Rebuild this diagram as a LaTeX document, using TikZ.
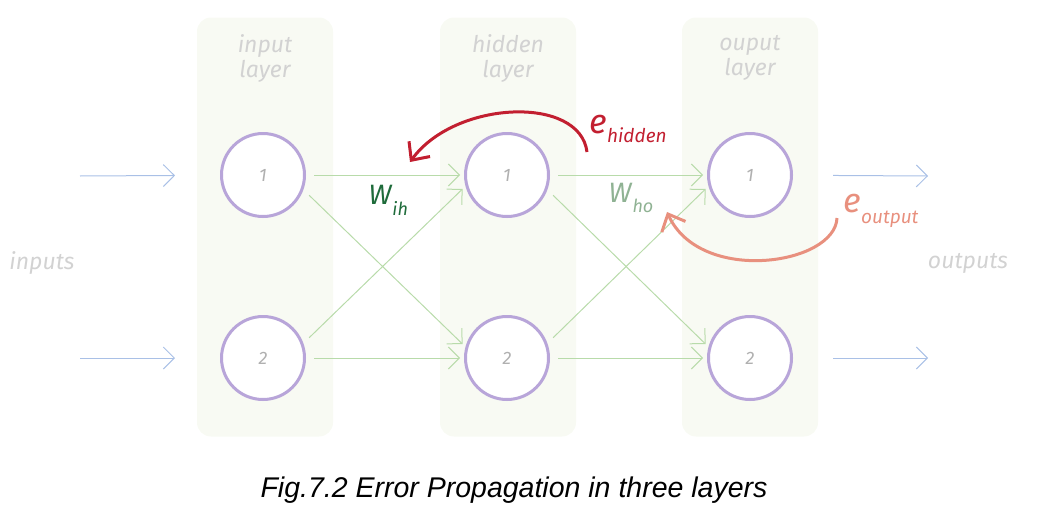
\documentclass[tikz,border=0pt]{standalone}
\usepackage{fontspec}
\setmainfont{Liberation Sans}
\newfontfamily\hand{Fira Sans}
\usetikzlibrary{arrows.meta}
\usepackage{xcolor}
\definecolor{panelfill}{HTML}{F8FAF3}
\definecolor{neuroncol}{HTML}{B8A5D9}
\definecolor{labcol}{HTML}{D2D2D2}
\definecolor{numcol}{HTML}{B0B0B0}
\definecolor{iocol}{HTML}{A9C0E6}
\definecolor{linkcol}{HTML}{B8DBAA}
\definecolor{wihcol}{HTML}{1E6B3A}
\definecolor{whocol}{HTML}{8FB293}
\definecolor{ehidcol}{HTML}{C21F30}
\definecolor{eoutcol}{HTML}{E8907E}

\begin{document}
\begin{tikzpicture}[x=1pt,y=-1pt,
    panel/.style={fill=panelfill, rounded corners=14pt, minimum width=136pt,
        minimum height=419pt, inner sep=0pt},
    neuron/.style={circle, draw=neuroncol, line width=3pt, fill=white,
        minimum size=83pt, inner sep=0pt, text=numcol,
        font=\hand\itshape\fontsize{18}{18}\selectfont},
    layertext/.style={text=labcol, align=center,
        font=\hand\itshape\fontsize{23}{25}\selectfont},
    barb/.style={-{Straight Barb[length=11pt,width=22pt]}},
    iolink/.style={barb, draw=iocol, line width=1pt},
    link/.style={barb, draw=linkcol, line width=1pt, shorten <=8pt, shorten >=4pt},
    errarc/.style={line width=3pt, -{Straight Barb[length=14pt,width=26pt]}},
    weight/.style={font=\hand\itshape\fontsize{28}{28}\selectfont, anchor=base west},
    ebig/.style={font=\hand\itshape\fontsize{34}{34}\selectfont, anchor=base west}
]
\useasboundingbox (0,0) rectangle (1038,514);

% layer panels
\node[panel] (pin)  at (265,227) {};
\node[panel] (phid) at (508,227) {};
\node[panel] (pout) at (750,227) {};
\node[layertext] (tin)  at (265,58) {input\\layer};
\node[layertext] (thid) at (508,58) {hidden\\layer};
\node[layertext] (tout) at (750,58) {ouput\\layer};

% neurons
\foreach \n/\y in {1/175,2/358} {
    \node[neuron] (i\n) at (263,\y) {\n};
    \node[neuron] (h\n) at (507,\y) {\n};
    \node[neuron] (o\n) at (750,\y) {\n};
}

% inputs and outputs
\node[layertext] (inputs)  at (42,263)  {inputs};
\node[layertext] (outputs) at (968,263) {outputs};
\foreach \n/\y in {1/176,2/358} {
    \coordinate (in\n)  at (80,\y);
    \coordinate (out\n) at (928,\y);
    \draw[iolink, shorten >=45pt] (in\n) -- (i\n);
    \draw[iolink, shorten <=40pt] (o\n) -- (out\n);
}

% weights
\draw[link] (i1) -- (h1);
\draw[link] (i2) -- (h2);
\draw[link] (i1.-20) -- (h2.165);
\draw[link] (i2.20) -- (h1.195);
\draw[link] (h1) -- (o1);
\draw[link] (h2) -- (o2);
\draw[link] (h1.-20) -- (o2.165);
\draw[link] (h2.20) -- (o1.195);

\node[weight, text=wihcol] (wih) at (365,204)
    {W\kern1pt\raisebox{-11pt}{\fontsize{18}{18}\selectfont ih}};
\node[weight, text=whocol] (who) at (605,202)
    {W\kern1pt\raisebox{-10pt}{\fontsize{18}{18}\selectfont ho}};

% errors
\coordinate (eh) at (587,152);
\coordinate (eo) at (837,218);
\draw[errarc, draw=ehidcol] (eh) .. controls (580,95) and (455,100) .. (410,162);
\draw[errarc, draw=eoutcol] (eo) .. controls (835,265) and (700,285) .. (667,212);
\node[ebig, text=ehidcol] (ehid) at (586,133)
    {e\raisebox{-9pt}{\fontsize{19}{19}\selectfont hidden}};
\node[ebig, text=eoutcol] (eout) at (840,212)
    {e\raisebox{-11pt}{\fontsize{19}{19}\selectfont output}};

% caption
\node[font=\itshape\fontsize{28.5}{32}\selectfont] (caption) at (514,490)
    {Fig.7.2 Error Propagation in three layers};
\end{tikzpicture}
\end{document}
